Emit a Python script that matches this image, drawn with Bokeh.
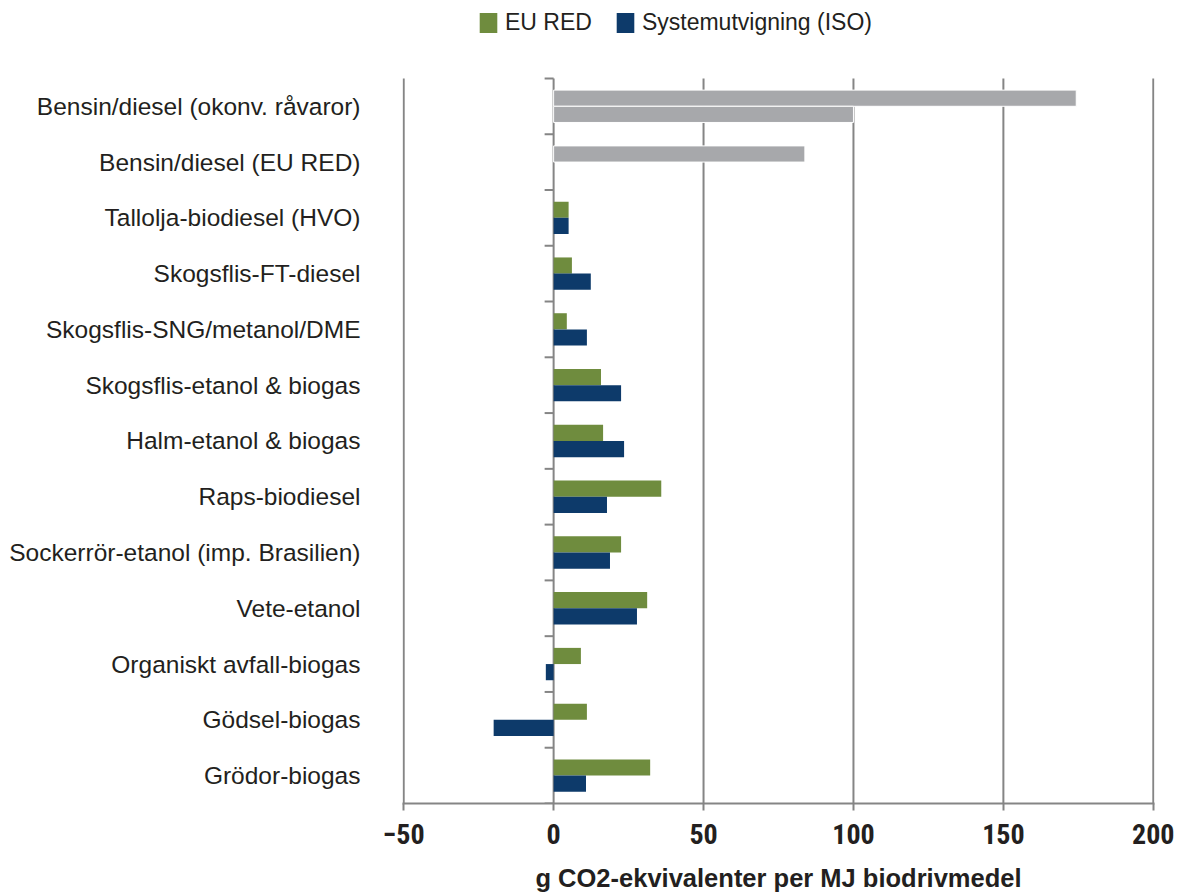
from bokeh.plotting import figure
from bokeh.models import (Range1d, FixedTicker, ColumnDataSource, Legend, LegendItem)
from bokeh.embed import file_html
from bokeh.resources import INLINE

# Fuel pathways, listed top to bottom
categories = [
    "Bensin/diesel (okonv. råvaror)",
    "Bensin/diesel (EU RED)",
    "Tallolja-biodiesel (HVO)",
    "Skogsflis-FT-diesel",
    "Skogsflis-SNG/metanol/DME",
    "Skogsflis-etanol & biogas",
    "Halm-etanol & biogas",
    "Raps-biodiesel",
    "Sockerrör-etanol (imp. Brasilien)",
    "Vete-etanol",
    "Organiskt avfall-biogas",
    "Gödsel-biogas",
    "Grödor-biogas",
]

# Biofuel pathways (g CO2-eq per MJ)
bio_categories = categories[2:]
eu_red = [5.0, 6.1, 4.4, 15.8, 16.5, 35.9, 22.5, 31.2, 9.1, 11.1, 32.2]
iso = [5.0, 12.4, 11.1, 22.5, 23.5, 17.8, 18.8, 27.8, -2.6, -20.0, 10.8]

# Fossil comparators (grey bars)
fossil_upper_cats = ["Bensin/diesel (okonv. råvaror)", "Bensin/diesel (EU RED)"]
fossil_upper = [174.3, 83.8]
fossil_lower_cats = ["Bensin/diesel (okonv. råvaror)"]
fossil_lower = [100.0]

x_min, x_max = -50, 200
x_ticks = [-50, 0, 50, 100, 150, 200]
x_label = "g CO2-ekvivalenter per MJ biodrivmedel"

GREEN = "#6f8c3e"
BLUE = "#0d3a6a"
GREY = "#a7a8ab"
LINE = "#858585"
TEXT = "#231f20"

n = len(categories)
ypos = {c: n - 1 - i for i, c in enumerate(categories)}
bar_h = 0.29
y_lo, y_hi = -0.5, n - 0.5
# head room above the bars that holds the legend (in category units)
head = 1.3967
pad_x = 0.4

p = figure(width=1184, height=894, output_backend="svg", toolbar_location=None,
           x_range=Range1d(x_min - pad_x, x_max + pad_x),
           y_range=Range1d(y_lo, y_hi + head),
           min_border_left=402, min_border_right=30,
           min_border_top=0, min_border_bottom=90)
p.outline_line_color = None
p.background_fill_color = "white"
p.border_fill_color = "white"
p.xgrid.grid_line_color = None
p.ygrid.grid_line_color = None

# Left border and vertical grid lines (zero line included)
grid_x = x_ticks
p.segment(x0=grid_x, x1=grid_x, y0=[y_lo] * len(grid_x), y1=[y_hi] * len(grid_x),
          line_color=LINE, line_width=2)

src_eu = ColumnDataSource(dict(y=[ypos[c] + bar_h / 2 for c in bio_categories], v=eu_red))
src_iso = ColumnDataSource(dict(y=[ypos[c] - bar_h / 2 for c in bio_categories], v=iso))
src_fu = ColumnDataSource(dict(y=[ypos[c] + bar_h / 2 for c in fossil_upper_cats], v=fossil_upper))
src_fl = ColumnDataSource(dict(y=[ypos[c] - bar_h / 2 for c in fossil_lower_cats], v=fossil_lower))

r_eu = p.hbar(y="y", right="v", left=0, height=bar_h, source=src_eu,
              fill_color=GREEN, line_color=None)
r_iso = p.hbar(y="y", right="v", left=0, height=bar_h, source=src_iso,
               fill_color=BLUE, line_color=None)
p.hbar(y="y", right="v", left=0, height=bar_h, source=src_fu,
       fill_color=GREY, line_color="white", line_width=1)
p.hbar(y="y", right="v", left=0, height=bar_h, source=src_fl,
       fill_color=GREY, line_color="white", line_width=1)

# Category tick marks on the zero line
bounds = [k - 0.5 for k in range(n + 1)]
p.segment(x0=[-3] * len(bounds), x1=[0] * len(bounds), y0=bounds, y1=bounds,
          line_color=LINE, line_width=2)

# X axis
p.xaxis.ticker = FixedTicker(ticks=x_ticks)
p.xaxis.axis_line_color = LINE
p.xaxis.axis_line_width = 2
p.xaxis.major_tick_line_color = LINE
p.xaxis.major_tick_line_width = 2
p.xaxis.major_tick_out = 7
p.xaxis.major_tick_in = 0
p.xaxis.minor_tick_line_color = None
p.xaxis.major_label_text_font = "'Liberation Sans Narrow', 'Roboto Condensed', 'Liberation Sans'"
p.xaxis.major_label_text_font_style = "bold"
p.xaxis.major_label_text_font_size = "28px"
p.xaxis.major_label_text_color = TEXT
p.xaxis.major_label_standoff = 13
p.xaxis.axis_label = x_label
p.xaxis.axis_label_text_font = "Liberation Sans"
p.xaxis.axis_label_text_font_style = "bold"
p.xaxis.axis_label_text_font_size = "25.5px"
p.xaxis.axis_label_text_color = TEXT
p.xaxis.axis_label_standoff = 17

# Y axis: only the pathway names
p.yaxis.ticker = FixedTicker(ticks=list(range(n)))
p.yaxis.major_label_overrides = {ypos[c]: c for c in categories}
p.yaxis.axis_line_color = None
p.yaxis.major_tick_line_color = None
p.yaxis.major_tick_out = 0
p.yaxis.major_tick_in = 0
p.yaxis.minor_tick_line_color = None
p.yaxis.major_label_standoff = 42
p.yaxis.major_label_text_font = "Liberation Sans"
p.yaxis.major_label_text_font_size = "24.5px"
p.yaxis.major_label_text_color = TEXT

legend = Legend(items=[LegendItem(label="EU RED", renderers=[r_eu]),
                       LegendItem(label="Systemutvigning (ISO)", renderers=[r_iso])],
                orientation="horizontal", location=(75, 767))
legend.glyph_width = 22
legend.glyph_height = 25
legend.label_standoff = 6
legend.spacing = 22
legend.padding = 0
legend.margin = 0
legend.border_line_color = None
legend.background_fill_alpha = 0
legend.label_text_font = "Liberation Sans"
legend.label_text_font_size = "23px"
legend.label_text_color = TEXT
p.add_layout(legend)

open("out.html", "w").write(file_html(p, INLINE))
